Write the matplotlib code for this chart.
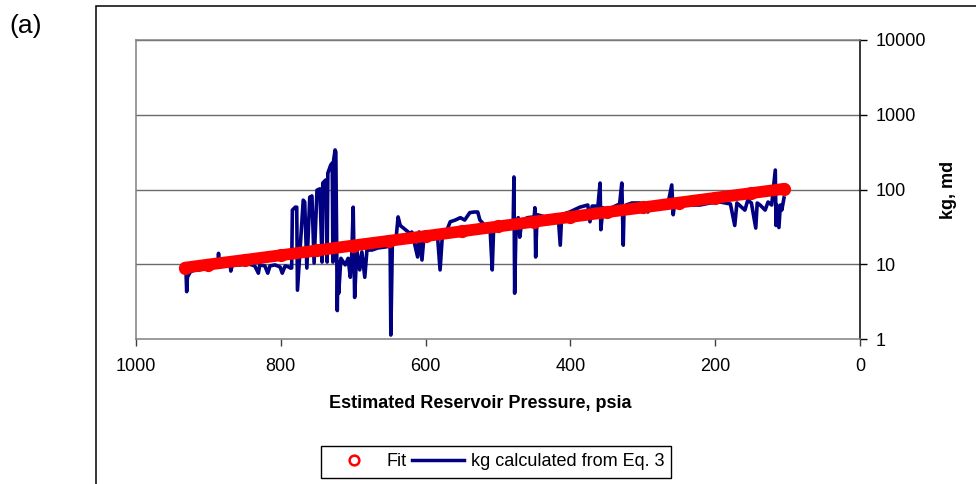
import matplotlib
matplotlib.use("Agg")
import matplotlib.pyplot as plt
from matplotlib.lines import Line2D
from matplotlib.patches import Rectangle

plt.rcParams["font.family"] = ["Liberation Sans", "DejaVu Sans"]

# ── Data ────────────────────────────────────────────────────────────────────
# kg calculated from Eq. 3 vs estimated reservoir pressure
kg_p = [931, 930, 929, 925, 919, 912, 905, 898, 891, 887, 886, 885, 877, 870,
        869, 867, 856, 849, 843, 836, 831, 829, 822, 818, 815, 808, 801, 798,
        794, 789, 787, 785, 784, 780, 778, 777, 775, 769, 767, 764, 760, 757,
        754, 750, 746, 743, 742, 738, 736, 735, 731, 729, 728, 727, 725, 724,
        722, 721, 720, 717, 711, 707, 704, 702, 700, 699, 698, 695, 691, 688,
        684, 681, 674, 666, 656, 649, 648, 646, 641, 638, 635, 628, 624, 622,
        619, 611, 609, 605, 602, 597, 588, 584, 580, 577, 573, 566, 559, 552,
        546, 539, 533, 528, 525, 518, 511, 508, 506, 497, 490, 483, 479, 478,
        477, 475, 472, 470, 467, 459, 450, 449, 448, 446, 435, 421, 417, 414,
        412, 401, 387, 376, 373, 370, 362, 359, 358, 355, 348, 343, 332, 329,
        327, 326, 323, 315, 304, 293, 290, 276, 265, 260, 258, 256, 235, 221,
        207, 193, 179, 173, 170, 159, 155, 150, 144, 142, 138, 131, 127, 122,
        117, 116, 115, 112, 110, 108, 105]
kg_val = [8.4, 4.3, 6.7, 7.9, 8.4, 8.4, 8.9, 9.2, 9.2, 9.5, 14, 9.5, 9.5, 9.8,
          8.1, 9.8, 9.8, 10, 10, 9.5, 7.6, 9.8, 9.5, 7.6, 9.5, 9.8, 9.2, 7.6,
          9.5, 9.2, 8.9, 8.9, 53, 58, 58, 4.5, 8.9, 72, 68, 8.9, 79, 82,
          10.4, 98, 102, 10.7, 122, 134, 10.7, 166, 213, 226, 10.7, 248, 338, 318,
          2.4, 10.7, 4.1, 12, 9.8, 12, 6.7, 13.3, 58, 13.3, 3.6, 15.5, 8.4, 14.6,
          6.7, 15.5, 15.5, 16.5, 17, 17.5, 1.13, 17.5, 21, 43, 33, 29, 27, 25.4,
          27, 12.5, 27, 11.4, 25, 25, 26, 27, 8.4, 23, 25, 37, 39, 42,
          39, 49, 50, 50, 39, 33, 31, 8.4, 30.5, 33, 33, 36, 37, 147,
          4.1, 36, 42, 23, 39, 42, 43, 57, 12.5, 46, 43, 45, 46, 18,
          46, 50, 58, 62, 37, 60, 60, 122, 29, 57, 46, 57, 64, 122,
          18, 53, 62, 66, 66, 50, 60, 64, 66, 115, 46, 66, 62, 62,
          66, 68, 64, 33, 66, 53, 72, 66, 30.5, 66, 62, 53, 68, 62,
          182, 33, 62, 31, 62, 53, 77]

# Fit (red)
fit_p = [932, 900, 850, 800, 750, 700, 650, 600, 550, 500, 450, 400, 350,
         300, 250, 200, 150, 105]
fit_kg = [9.0, 9.9, 11.4, 13.2, 15.3, 17.8, 20.6, 23.8, 27.6, 32.0, 37.1,
          42.9, 49.7, 57.5, 66.7, 77.3, 89.4, 102]

x_ticks = [1000, 800, 600, 400, 200, 0]
y_ticks = [1, 10, 100, 1000, 10000]

# ── Figure ─────────────────────────────────────────────────────────────────
fig = plt.figure(figsize=(9.76, 4.84), dpi=100)
ax = fig.add_axes([136 / 976, 1 - 339 / 484, 724 / 976, 299 / 484])

ax.plot(kg_p, kg_val, color="#000080", lw=2.6, zorder=3)
ax.plot(fit_p, fit_kg, color="red", lw=8.5, solid_capstyle="round",
        marker="o", ms=8, mfc="none", mec="red", mew=1.5, zorder=4)

ax.set_yscale("log")
ax.set_ylim(1, 10000)
ax.set_xlim(1000, 0)
ax.set_xticks(x_ticks)
ax.set_xticklabels([str(v) for v in x_ticks])
ax.set_yticks(y_ticks)
ax.set_yticklabels([str(v) for v in y_ticks])
ax.yaxis.set_minor_locator(matplotlib.ticker.NullLocator())
ax.yaxis.tick_right()
ax.yaxis.set_label_position("right")

for v in y_ticks[1:]:
    ax.axhline(v, color="#6a6a6a", lw=1.0, zorder=1)

for s in ("left", "top", "bottom"):
    ax.spines[s].set_color("#808080")
    ax.spines[s].set_linewidth(1.1)
ax.spines["right"].set_color("black")
ax.spines["right"].set_linewidth(1.1)

ax.tick_params(axis="x", direction="out", length=5, width=1, color="#404040",
               labelsize=13, pad=9)
ax.tick_params(axis="y", direction="out", length=5, width=1, color="black",
               labelsize=13, pad=6)

ax.set_xlabel("Estimated Reservoir Pressure, psia", fontsize=13,
              fontweight="bold")
ax.xaxis.set_label_coords((480 - 136) / 724, -0.187)
ax.set_ylabel("kg, md", fontsize=13, fontweight="bold")
ax.yaxis.set_label_coords((940 - 136) / 724, 0.5)

handles = [
    Line2D([], [], ls="none", marker="o", ms=7, mfc="none", mec="red", mew=1.8),
    Line2D([], [], color="#000080", lw=2.5),
]
fig.legend(handles, ["Fit", "kg calculated from Eq. 3"], ncol=2,
           loc="center", bbox_to_anchor=(496 / 976, 1 - 462 / 484),
           fontsize=13, frameon=True, fancybox=False, edgecolor="black",
           framealpha=1, handlelength=2.9, columnspacing=0.3,
           handletextpad=0.35, borderpad=0.4)

fig.text(9 / 976, 1 - 26 / 484, "(a)", fontsize=19, va="center", ha="left")

fig.add_artist(Rectangle((96 / 976, -0.1), 1.0, 1.1 - 6 / 484,
                         transform=fig.transFigure, fill=False,
                         edgecolor="black", lw=1.1, clip_on=False))

fig.savefig("out.png", dpi=100)
